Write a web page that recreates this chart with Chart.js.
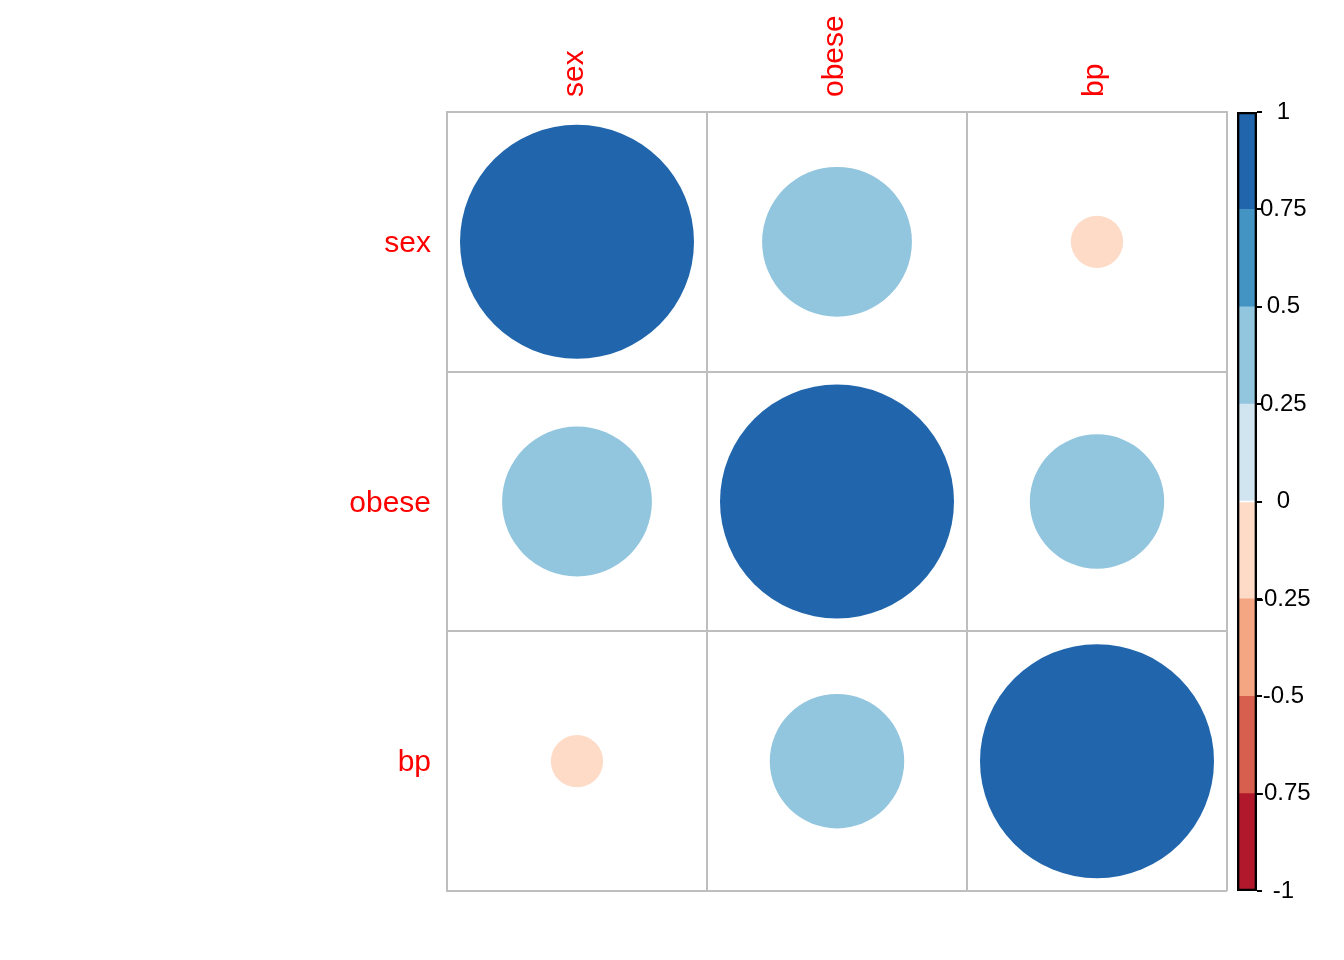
<!DOCTYPE html>
<html>
<head>
<meta charset="utf-8">
<script src="https://cdn.jsdelivr.net/npm/chart.js@4"></script>
<style>
  body { margin: 0; background: #fff; }
  .layer { position: absolute; left: 0; top: 0; width: 1344px; height: 960px; }
</style>
</head>
<body>
<div class="layer"><canvas id="corr"></canvas></div>
<div class="layer"><canvas id="legend"></canvas></div>
<script>
// variables and correlations (row by row)
const variables = ['sex', 'obese', 'bp'];
const corrSex = [1, 0.41, -0.05];
const corrObese = [0.41, 1, 0.33];
const corrBp = [-0.05, 0.33, 1];

// colour bins of the legend, from -1 up to 1
const binEdges = [-1, -0.75, -0.5, -0.25, 0, 0.25, 0.5, 0.75, 1];
const binColors = ['#B2182B', '#D6604D', '#F4A582', '#FDDBC7', '#D1E5F0', '#92C5DE', '#4393C3', '#2166AC'];
const legendTicks = [-1, -0.75, -0.5, -0.25, 0, 0.25, 0.5, 0.75, 1];

const rows = [corrSex, corrObese, corrBp];
const labelFont = { family: 'Liberation Sans, Arial, sans-serif', size: 30 };

function colorFor(v) {
    for (let i = 0; i < binColors.length; i++) {
        if (v <= binEdges[i + 1]) return binColors[i];
    }
    return binColors[binColors.length - 1];
}

// one point per matrix cell
const points = [];
rows.forEach((row, i) => {
    row.forEach((v, j) => {
        points.push({ x: variables[j], y: variables[i], v: v });
    });
});

new Chart(document.getElementById('corr'), {
    type: 'scatter',
    data: {
        datasets: [{
            data: points,
            pointStyle: 'circle',
            borderWidth: 0,
            backgroundColor: ctx => colorFor(ctx.raw.v),
            pointRadius: ctx => {
                const s = ctx.chart.scales.x;
                const cell = s.width / variables.length;
                return cell * 0.45 * Math.sqrt(Math.abs(ctx.raw.v));
            }
        }]
    },
    options: {
        responsive: true,
        maintainAspectRatio: false,
        animation: false,
        events: [],
        layout: { padding: { left: 0, top: 0, right: 117, bottom: 69 } },
        plugins: { legend: { display: false }, tooltip: { enabled: false } },
        scales: {
            x: {
                type: 'category',
                labels: variables,
                position: 'top',
                offset: true,
                grid: { offset: true, color: '#BEBEBE', lineWidth: 2, drawTicks: false },
                border: { color: '#BEBEBE', width: 2 },
                ticks: { color: '#FF0000', font: labelFont, minRotation: 90, maxRotation: 90, padding: 15, labelOffset: 34 },
                afterFit: s => { s.height = 112; }
            },
            y: {
                type: 'category',
                labels: variables,
                offset: true,
                grid: { offset: true, color: '#BEBEBE', lineWidth: 2, drawTicks: false },
                border: { color: '#BEBEBE', width: 2 },
                ticks: { color: '#FF0000', font: labelFont, padding: 16, labelOffset: 2 },
                afterFit: s => { s.width = 447; }
            }
        }
    }
});

// colour legend: one floating bar per bin plus an outline on top
const legendSets = binColors.map((c, i) => ({
    data: [[binEdges[i], binEdges[i + 1]]],
    backgroundColor: c,
    borderWidth: 0,
    grouped: false,
    categoryPercentage: 1,
    barPercentage: 1
}));
legendSets.unshift({
    data: [[binEdges[0], binEdges[binEdges.length - 1]]],
    backgroundColor: 'rgba(0,0,0,0)',
    borderColor: '#000000',
    borderWidth: 2,
    borderSkipped: false,
    grouped: false,
    order: -1,
    categoryPercentage: 1,
    barPercentage: 1
});

new Chart(document.getElementById('legend'), {
    type: 'bar',
    data: { labels: [''], datasets: legendSets },
    options: {
        responsive: true,
        maintainAspectRatio: false,
        animation: false,
        events: [],
        layout: { padding: { left: 1237, top: 112, right: 0, bottom: 69 } },
        plugins: { legend: { display: false }, tooltip: { enabled: false } },
        scales: {
            x: { display: false },
            y: {
                position: 'right',
                min: -1,
                max: 1,
                afterBuildTicks: s => { s.ticks = legendTicks.map(v => ({ value: v })); },
                grid: { drawOnChartArea: false, drawTicks: true, tickLength: 5, color: '#000000', lineWidth: 2 },
                border: { display: false },
                ticks: {
                    color: '#000000',
                    font: { family: 'Liberation Sans, Arial, sans-serif', size: 24 },
                    crossAlign: 'center',
                    padding: -6,
                    callback: v => String(v)
                },
                afterFit: s => { s.width = 87; }
            }
        }
    }
});
</script>
</body>
</html>
